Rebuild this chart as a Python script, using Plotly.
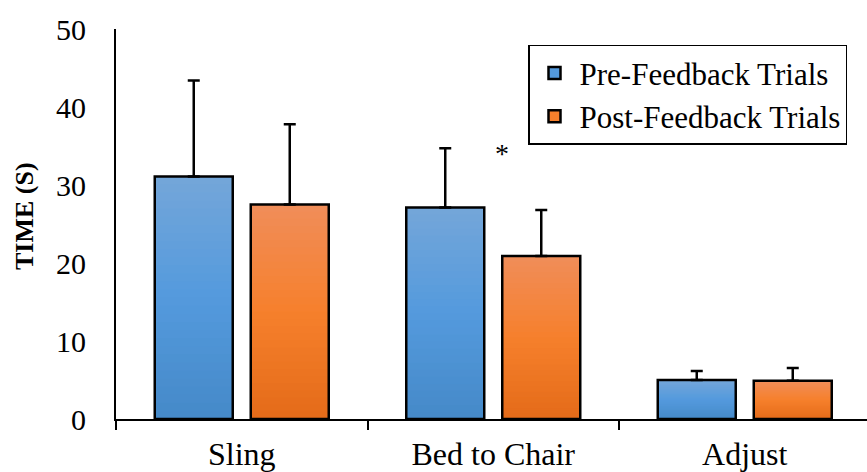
import plotly.graph_objects as go

categories = ["Sling", "Bed to Chair", "Adjust"]
pre_values = [31.1, 27.1, 5.0]
post_values = [27.5, 20.9, 4.9]
pre_errors = [12.3, 7.6, 1.15]
post_errors = [10.3, 5.9, 1.65]
series_names = ["Pre-Feedback Trials", "Post-Feedback Trials"]
y_ticks = [0, 10, 20, 30, 40, 50]

# gradient stops (top, middle, bottom)
blue_stops = [(116, 166, 217), (84, 154, 221), (69, 137, 200)]
orange_stops = [(240, 141, 90), (246, 128, 44), (228, 107, 25)]

N = 30
FONT = "Liberation Serif"


def grad_color(stops, t):
    # t = 0 bottom, 1 top
    top, mid, bot = stops
    if t < 0.5:
        a, b, f = bot, mid, t / 0.5
    else:
        a, b, f = mid, top, (t - 0.5) / 0.5
    c = [round(a[i] + (b[i] - a[i]) * f) for i in range(3)]
    return f"rgb({c[0]},{c[1]},{c[2]})"


fig = go.Figure()

series = [
    (series_names[0], pre_values, pre_errors, blue_stops, "pre"),
    (series_names[1], post_values, post_errors, orange_stops, "post"),
]

for name, vals, errs, stops, grp in series:
    # gradient slices: each slice runs from its base to the bar top,
    # later (higher) slices painted over the lower ones -> no seams
    for k in range(N):
        fig.add_trace(go.Bar(
            x=categories,
            y=[v * (1 - k / N) for v in vals],
            base=[v * k / N for v in vals],
            offsetgroup=grp,
            marker=dict(color=grad_color(stops, (k + 0.5) / N), line=dict(width=0)),
            showlegend=False,
            hoverinfo="skip",
        ))
    # outline + error bars
    fig.add_trace(go.Bar(
        x=categories,
        y=vals,
        offsetgroup=grp,
        marker=dict(color="rgba(0,0,0,0)", line=dict(color="black", width=2.5)),
        error_y=dict(type="data", array=errs, arrayminus=[0] * len(errs),
                     symmetric=False, color="black", thickness=2.5, width=6),
        showlegend=False,
    ))
    # legend entry
    fig.add_trace(go.Bar(
        x=categories,
        y=[None] * len(categories),
        offsetgroup=grp,
        name=name,
        legendgroup=grp,
        marker=dict(color=grad_color(stops, 0.5), line=dict(color="black", width=2.5)),
    ))

fig.add_annotation(
    x=1.036, y=34.0, xref="x", yref="y", text="*", showarrow=False,
    font=dict(family=FONT, size=28, color="black"), yanchor="middle", xanchor="center",
)
fig.add_annotation(
    x=(24 - 116) / 751, y=(421 - 217) / 392, xref="paper", yref="paper",
    text="<b>TIME (S)</b>", textangle=-90, showarrow=False,
    xanchor="center", yanchor="middle",
    font=dict(family=FONT, size=26, color="black"),
)

fig.update_layout(
    width=867, height=472,
    margin=dict(l=116, r=0, t=29, b=51),
    paper_bgcolor="white", plot_bgcolor="white",
    barmode="group", bargap=0.2366, bargroupgap=0.1875,
    font=dict(family=FONT, size=30, color="black"),
    legend=dict(
        x=(528 - 116) / 751, xanchor="left", y=(421 - 45) / 392, yanchor="top",
        bordercolor="black", borderwidth=1.5, bgcolor="white",
        font=dict(family=FONT, size=31, color="black"),
        tracegroupgap=8, traceorder="normal", itemwidth=40,
    ),
    xaxis=dict(
        range=[-0.5, -0.5 + 751 / 251.5], showline=True, linecolor="black", linewidth=2,
        ticks="outside", tickson="boundaries", ticklen=9, tickwidth=2, tickcolor="black",
        showgrid=False, zeroline=False, ticklabelstandoff=6,
        tickfont=dict(family=FONT, size=32),
    ),
    yaxis=dict(
        range=[0, 50], tickvals=y_ticks, showline=True, linecolor="black", linewidth=2,
        ticks="", showgrid=False, zeroline=False, ticklabelstandoff=22,
        tickfont=dict(family=FONT, size=30),
    ),
)

fig.write_html("out.html")
